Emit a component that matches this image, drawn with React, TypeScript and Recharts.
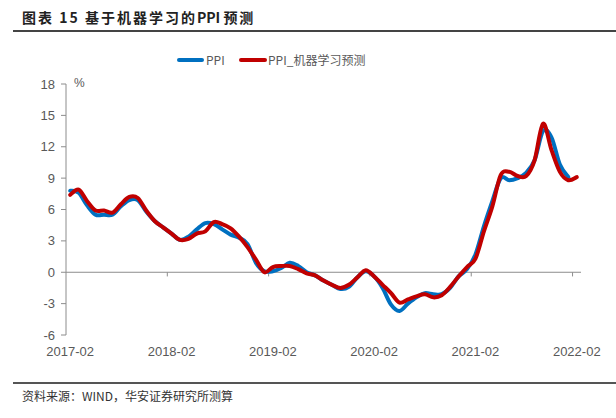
import React from 'react';
import { LineChart, Line, XAxis, YAxis, ReferenceLine } from 'recharts';

// month labels shown on the axis (every 12th category)
const tickLabels = ['2017-02', '2018-02', '2019-02', '2020-02', '2021-02', '2022-02'];

// PPI yoy, 2017-02 .. 2022-01
const ppi = [
  7.8, 7.6, 6.4, 5.5, 5.5, 5.5, 6.3, 6.9, 6.9, 5.8, 4.9,
  4.3, 3.7, 3.1, 3.4, 4.1, 4.7, 4.6, 4.1, 3.6, 3.3, 2.7, 0.9,
  0.1, 0.1, 0.4, 0.9, 0.6, 0.0, -0.3, -0.8, -1.2, -1.6, -1.4, -0.5,
  0.1, -0.4, -1.5, -3.1, -3.7, -3.0, -2.4, -2.0, -2.1, -2.1, -1.5, -0.4,
  0.3, 1.7, 4.4, 6.8, 9.0, 8.8, 9.0, 9.5, 10.7, 13.5, 12.9, 10.3,
  9.1,
];

// machine-learning forecast, 2017-02 .. 2022-02
const mlForecast = [
  7.4, 7.9, 6.8, 5.9, 5.9, 5.7, 6.5, 7.2, 7.1, 5.9, 4.9,
  4.3, 3.7, 3.1, 3.2, 3.7, 3.9, 4.8, 4.6, 4.2, 3.4, 2.4, 1.2,
  0.0, 0.5, 0.6, 0.6, 0.3, -0.1, -0.3, -0.8, -1.2, -1.5, -1.2, -0.5,
  0.2, -0.4, -1.2, -2.0, -2.9, -2.6, -2.3, -2.1, -2.4, -2.2, -1.4, -0.4,
  0.5, 1.3, 3.9, 6.3, 9.3, 9.6, 9.2, 9.2, 10.7, 14.2, 11.7, 9.6,
  8.8, 9.1,
];

const yTicks = [-6, -3, 0, 3, 6, 9, 12, 15, 18];

const BLUE = '#0070C0';
const RED = '#C00000';
const GREY = '#595959';
const AXIS = '#8c8c8c';

// each month sits in the middle of its category slot
const data = mlForecast.map((v, i) => ({
  x: i + 0.5,
  ppi: i < ppi.length ? ppi[i] : null,
  ml: v,
}));

const boundaries = tickLabels.map((_, i) => i * 12);
const labelPos = boundaries.map((b) => b + 0.5);

// smoothed line similar to the office chart "smooth line"
const smoothCurve = (ctx: any) => {
  let pts: number[][] = [];
  return {
    areaStart() {},
    areaEnd() {},
    lineStart() {
      pts = [];
    },
    point(x: number, y: number) {
      pts.push([+x, +y]);
    },
    lineEnd() {
      if (!pts.length) return;
      ctx.moveTo(pts[0][0], pts[0][1]);
      for (let i = 0; i < pts.length - 1; i++) {
        const p0 = pts[Math.max(i - 1, 0)];
        const p1 = pts[i];
        const p2 = pts[i + 1];
        const p3 = pts[Math.min(i + 2, pts.length - 1)];
        ctx.bezierCurveTo(
          p1[0] + (p2[0] - p0[0]) / 6,
          p1[1] + (p2[1] - p0[1]) / 6,
          p2[0] - (p3[0] - p1[0]) / 6,
          p2[1] - (p3[1] - p1[1]) / 6,
          p2[0],
          p2[1]
        );
      }
    },
  };
};

const LegendBox = () => (
  <div style={{ position: 'absolute', left: 0, top: 50, width: 616, height: 20, fontFamily: '"Noto Sans CJK SC", "Liberation Sans", sans-serif', fontSize: 12, color: GREY }}>
    <div style={{ position: 'absolute', left: 177, top: 8, width: 27, height: 4, borderRadius: 2, background: BLUE }} />
    <span style={{ position: 'absolute', left: 206, top: 1, lineHeight: '18px' }}>PPI</span>
    <div style={{ position: 'absolute', left: 239, top: 8, width: 28, height: 4, borderRadius: 2, background: RED }} />
    <span style={{ position: 'absolute', left: 268, top: 1, lineHeight: '18px' }}>PPI_机器学习预测</span>
  </div>
);

export default function App() {
  return (
    <div style={{ position: 'absolute', left: 0, top: 0, width: 616, height: 418, background: '#fff', fontFamily: '"Noto Sans CJK SC", sans-serif' }}>
      <div style={{ position: 'absolute', left: 22, top: 7, fontSize: 14, fontWeight: 'bold', color: '#222', lineHeight: '20px', whiteSpace: 'pre' }}>
        <span style={{ letterSpacing: 2 }}>图表 15 基于机器学习的</span>
        <span>PPI </span>
        <span style={{ letterSpacing: 2 }}>预测</span>
      </div>
      <div style={{ position: 'absolute', left: 13, top: 30, width: 603, height: 1.5, background: '#444' }} />

      <LineChart width={616} height={370} data={data} margin={{ top: 84, right: 35, bottom: 5, left: 0 }}>
        <XAxis
          dataKey="x"
          type="number"
          domain={[0, 61]}
          ticks={labelPos}
          tickFormatter={(v: number) => tickLabels[Math.round((v - 0.5) / 12)]}
          axisLine={false}
          tickLine={false}
          tickSize={6}
          tickMargin={6}
          height={30}
          interval={0}
          tick={{ fill: GREY, fontSize: 13, fontFamily: '"Liberation Sans", Arial, sans-serif' }}
        />
        <YAxis
          type="number"
          domain={[-6, 18]}
          ticks={yTicks}
          width={66}
          interval={0}
          axisLine={{ stroke: AXIS, strokeWidth: 1 }}
          tickLine={{ stroke: AXIS }}
          tickSize={5}
          tickMargin={6}
          tick={{ fill: GREY, fontSize: 13, fontFamily: '"Liberation Sans", Arial, sans-serif' }}
        />
        <ReferenceLine y={0} stroke={AXIS} strokeWidth={1} />
        {boundaries.slice(1).map((b) => (
          <ReferenceLine key={b} segment={[{ x: b, y: 0 }, { x: b, y: -0.4 }]} stroke={AXIS} strokeWidth={1} />
        ))}
        <Line
          dataKey="ppi"
          type={smoothCurve as any}
          stroke={BLUE}
          strokeWidth={4}
          dot={false}
          strokeLinecap="round"
          isAnimationActive={false}
          connectNulls={false}
        />
        <Line
          dataKey="ml"
          type={smoothCurve as any}
          stroke={RED}
          strokeWidth={4}
          dot={false}
          strokeLinecap="round"
          isAnimationActive={false}
        />
      </LineChart>

      <LegendBox />

      <div style={{ position: 'absolute', left: 74, top: 76, fontSize: 12, color: GREY, fontFamily: '"Liberation Sans", sans-serif' }}>%</div>

      <div style={{ position: 'absolute', left: 13, top: 382, width: 603, height: 1.5, background: '#555' }} />
      <div style={{ position: 'absolute', left: 22, top: 387, fontSize: 12, color: '#333', lineHeight: '17px' }}>
        资料来源：WIND，华安证券研究所测算
      </div>
    </div>
  );
}
